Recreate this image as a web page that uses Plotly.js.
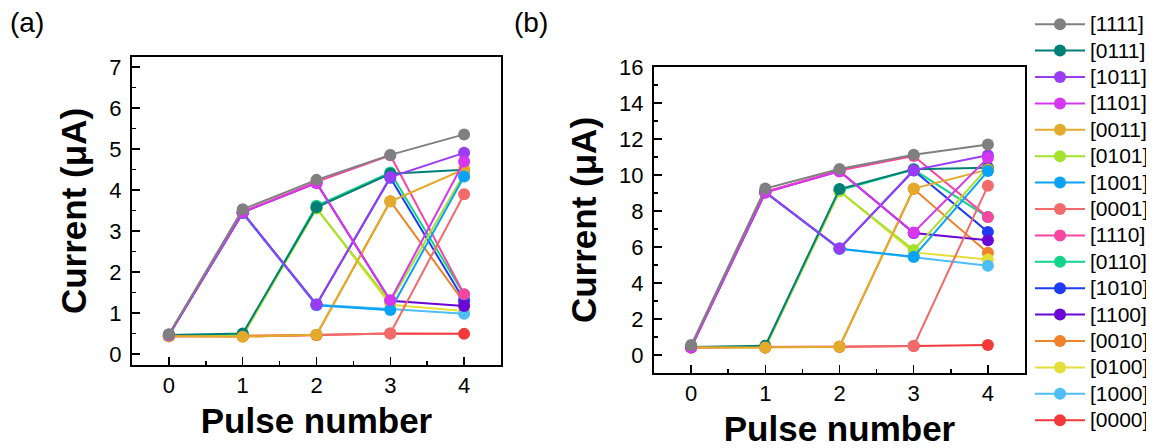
<!DOCTYPE html>
<html>
<head>
<meta charset="utf-8">
<script src="https://cdn.plot.ly/plotly-3.0.1.min.js"></script>
<style>
  html, body { margin: 0; padding: 0; background: #fff; }
  #chart { width: 1163px; height: 448px; }
  /* larger legend labels while keeping the compact row spacing */
  #chart .legendtext { font-size: 21px !important; }
</style>
</head>
<body>
<div id="chart"></div>
<script>
// Pulse index on the x axis
const pulses = [0, 1, 2, 3, 4];

// Input states, in legend order
const states = ['[1111]', '[0111]', '[1011]', '[1101]', '[0011]', '[0101]', '[1001]', '[0001]',
                '[1110]', '[0110]', '[1010]', '[1100]', '[0010]', '[0100]', '[1000]', '[0000]'];

const colors = ['#808080', '#007f78', '#9a3cf4', '#d636ef', '#e3aa2c', '#a4e22e', '#0aa2f5', '#f26a6a',
                '#f546a2', '#10d488', '#1e3cf6', '#6a06d6', '#f0822a', '#e6de38', '#4dbff6', '#f23a3a'];

// Painting order, bottom first
const drawOrder = ['[0000]', '[0010]', '[0100]', '[1000]', '[0110]', '[1010]', '[1100]', '[1110]',
                   '[0001]', '[0101]', '[0111]', '[0011]', '[1001]', '[1011]', '[1101]', '[1111]'];

// (a) current in µA after each pulse
const a1111 = [0.48, 3.53, 4.25, 4.86, 5.36];
const a0111 = [0.46, 0.50, 3.58, 4.40, 4.50];
const a1011 = [0.47, 3.45, 1.20, 4.32, 4.91];
const a1101 = [0.46, 3.46, 4.17, 1.31, 4.70];
const a0011 = [0.44, 0.42, 0.47, 3.72, 4.51];
const a0101 = [0.44, 0.45, 3.55, 1.27, 4.40];
const a1001 = [0.46, 3.44, 1.19, 1.07, 4.33];
const a0001 = [0.43, 0.43, 0.46, 0.50, 3.90];
const a1110 = [0.46, 3.47, 4.20, 4.85, 1.46];
const a0110 = [0.44, 0.46, 3.62, 4.43, 1.45];
const a1010 = [0.46, 3.45, 1.21, 4.30, 1.31];
const a1100 = [0.46, 3.46, 4.18, 1.30, 1.17];
const a0010 = [0.43, 0.44, 0.46, 3.73, 1.26];
const a0100 = [0.44, 0.45, 3.56, 1.20, 1.05];
const a1000 = [0.46, 3.44, 1.20, 1.10, 0.98];
const a0000 = [0.43, 0.43, 0.46, 0.50, 0.49];

// (b) current in µA after each pulse
const b1111 = [0.55, 9.25, 10.33, 11.12, 11.70];
const b0111 = [0.45, 0.52, 9.22, 10.32, 10.40];
const b1011 = [0.44, 9.05, 5.92, 10.27, 11.10];
const b1101 = [0.42, 9.02, 10.20, 6.81, 10.95];
const b0011 = [0.43, 0.42, 0.46, 9.25, 10.30];
const b0101 = [0.44, 0.43, 9.10, 5.83, 10.42];
const b1001 = [0.44, 9.04, 5.90, 5.46, 10.22];
const b0001 = [0.42, 0.42, 0.46, 0.50, 9.40];
const b1110 = [0.44, 9.06, 10.25, 11.05, 7.66];
const b0110 = [0.44, 0.45, 9.15, 10.30, 7.66];
const b1010 = [0.44, 9.04, 5.91, 10.25, 6.84];
const b1100 = [0.44, 9.05, 10.22, 6.78, 6.38];
const b0010 = [0.42, 0.42, 0.46, 9.22, 5.68];
const b0100 = [0.43, 0.43, 9.10, 5.70, 5.31];
const b1000 = [0.44, 9.04, 5.90, 5.45, 4.96];
const b0000 = [0.42, 0.42, 0.46, 0.50, 0.55];

const seriesA = [a1111, a0111, a1011, a1101, a0011, a0101, a1001, a0001,
                 a1110, a0110, a1010, a1100, a0010, a0100, a1000, a0000];
const seriesB = [b1111, b0111, b1011, b1101, b0011, b0101, b1001, b0001,
                 b1110, b0110, b1010, b1100, b0010, b0100, b1000, b0000];

const FONT = 'Liberation Sans, Arial, Helvetica, sans-serif';

const traces = [];
drawOrder.forEach(function (s) {
  const i = states.indexOf(s);
  const common = {
    x: pulses, type: 'scatter', mode: 'lines+markers', name: s,
    legendgroup: s, legendrank: i + 1,
    line: { color: colors[i], width: 2 },
    marker: { color: colors[i], size: 12 },
    hoverinfo: 'skip'
  };
  traces.push(Object.assign({}, common, { y: seriesA[i], xaxis: 'x', yaxis: 'y', showlegend: true }));
  traces.push(Object.assign({}, common, { y: seriesB[i], xaxis: 'x2', yaxis: 'y2', showlegend: false }));
});

const W = 1163, H = 448;
const px = v => v / W;
const py = v => 1 - v / H;

const xCommon = {
  tickmode: 'array', tickvals: pulses, ticktext: pulses.map(String),
  ticks: 'inside', ticklen: 8, tickwidth: 1.5, tickcolor: '#000',
  minor: { ticks: 'inside', dtick: 0.5, ticklen: 4, tickwidth: 1.5, tickcolor: '#000' },
  showline: true, linecolor: '#000', linewidth: 2, mirror: true,
  showgrid: false, zeroline: false,
  tickfont: { family: FONT, size: 22, color: '#000' },
  title: { text: 'Pulse number', font: { family: FONT, size: 35, color: '#000', weight: 'bold' }, standoff: 11 },
  range: [-0.5, 4.5], fixedrange: true
};
const yCommon = {
  ticks: 'inside', ticklen: 8, tickwidth: 1.5, tickcolor: '#000',
  showline: true, linecolor: '#000', linewidth: 2, mirror: true,
  showgrid: false, zeroline: false, ticklabelstandoff: 4,
  tickfont: { family: FONT, size: 22, color: '#000' },
  title: { text: 'Current (μA)', font: { family: FONT, size: 35, color: '#000', weight: 'bold' }, standoff: 12 },
  fixedrange: true
};

const layout = {
  width: W, height: H,
  margin: { l: 0, r: 0, t: 0, b: 0 },
  paper_bgcolor: '#fff', plot_bgcolor: '#fff',
  showlegend: true,
  xaxis: Object.assign({}, xCommon, { domain: [px(132), px(501)], anchor: 'y' }),
  yaxis: Object.assign({}, yCommon, {
    domain: [py(365), py(57)], anchor: 'x', range: [-0.27, 7.25],
    tickvals: [0, 1, 2, 3, 4, 5, 6, 7],
    minor: { ticks: 'inside', dtick: 0.5, ticklen: 4, tickwidth: 1.5, tickcolor: '#000' }
  }),
  xaxis2: Object.assign({}, xCommon, {
    domain: [px(654), px(1025)], anchor: 'y2',
    title: { text: 'Pulse number', font: { family: FONT, size: 35, color: '#000', weight: 'bold' }, standoff: 12 }
  }),
  yaxis2: Object.assign({}, yCommon, {
    domain: [py(373), py(67)], anchor: 'x2', range: [-1, 16],
    tickvals: [0, 2, 4, 6, 8, 10, 12, 14, 16],
    minor: { ticks: 'inside', dtick: 1, ticklen: 4, tickwidth: 1.5, tickcolor: '#000' }
  }),
  legend: {
    x: px(1030), y: py(6), xanchor: 'left', yanchor: 'top',
    traceorder: 'normal', itemwidth: 50,
    font: { family: FONT, size: 18, color: '#000' },
    bgcolor: 'rgba(0,0,0,0)', borderwidth: 0
  },
  annotations: [
    { text: '(a)', xref: 'paper', yref: 'paper', x: px(8), y: py(23), xanchor: 'left', yanchor: 'middle',
      showarrow: false, font: { family: FONT, size: 28, color: '#000' } },
    { text: '(b)', xref: 'paper', yref: 'paper', x: px(512), y: py(23), xanchor: 'left', yanchor: 'middle',
      showarrow: false, font: { family: FONT, size: 28, color: '#000' } }
  ]
};

Plotly.newPlot('chart', traces, layout, { staticPlot: true, displayModeBar: false });
</script>
</body>
</html>
